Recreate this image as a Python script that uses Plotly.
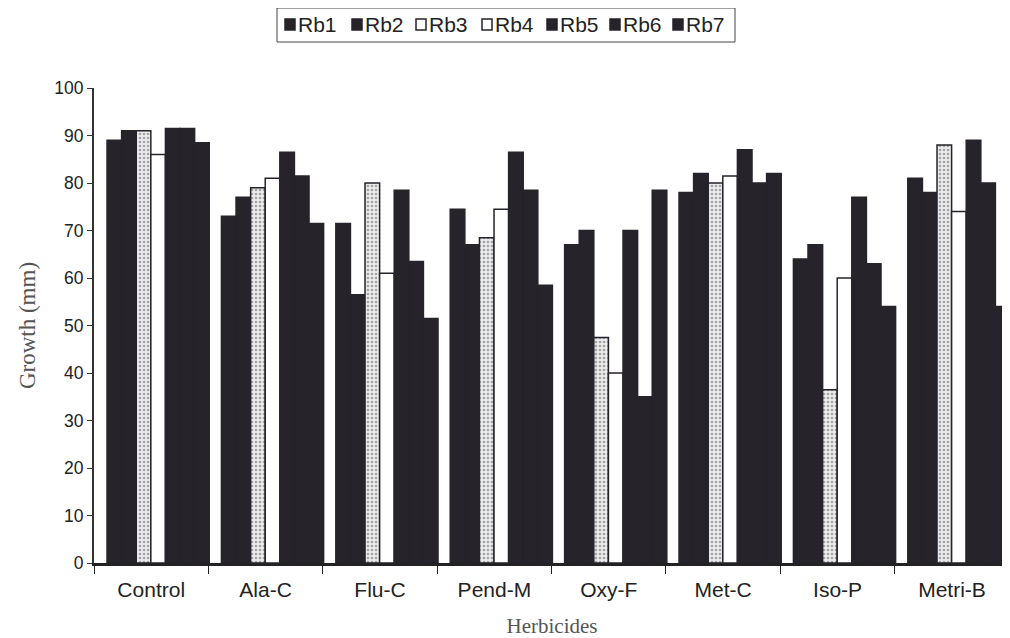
import plotly.graph_objects as go

categories = ["Control", "Ala-C", "Flu-C", "Pend-M", "Oxy-F", "Met-C", "Iso-P", "Metri-B"]
series_names = ["Rb1", "Rb2", "Rb3", "Rb4", "Rb5", "Rb6", "Rb7"]
rb1 = [89, 73, 71.5, 74.5, 67, 78, 64, 81]
rb2 = [91, 77, 56.5, 67, 70, 82, 67, 78]
rb3 = [91, 79, 80, 68.5, 47.5, 80, 36.5, 88]
rb4 = [86, 81, 61, 74.5, 40, 81.5, 60, 74]
rb5 = [91.5, 86.5, 78.5, 86.5, 70, 87, 77, 89]
rb6 = [91.5, 81.5, 63.5, 78.5, 35, 80, 63, 80]
rb7 = [88.5, 71.5, 51.5, 58.5, 78.5, 82, 54, 54]
values = [rb1, rb2, rb3, rb4, rb5, rb6, rb7]

dark = "#26232b"
bar_w = 0.1276
start = -0.386

# plot area in page pixels (used only for placing the hand-drawn legend)
PX0, PX1, PY0, PY1 = 94, 1010, 563, 88


def px(x):
    return (x - PX0) / (PX1 - PX0)


def py(y):
    return (PY0 - y) / (PY0 - PY1)


fig = go.Figure()
for i, (name, vals) in enumerate(zip(series_names, values)):
    if name == "Rb3":
        marker = dict(color="#e6e6e6", line=dict(color=dark, width=1.5),
                      pattern=dict(shape=".", fgcolor="#5a5a5a", bgcolor="#ececec",
                                   size=4, solidity=0.35))
    elif name == "Rb4":
        marker = dict(color="#ffffff", line=dict(color=dark, width=1.5))
    else:
        marker = dict(color=dark, line=dict(color=dark, width=1.5))
    fig.add_trace(go.Bar(name=name, x=categories, y=vals, offset=start + i * bar_w,
                         width=bar_w, marker=marker, showlegend=False))

# legend (box, squares, labels)
shapes = [dict(type="rect", xref="paper", yref="paper", x0=px(277), x1=px(735),
               y0=py(42), y1=py(8), line=dict(color="#444", width=1), fillcolor="rgba(0,0,0,0)")]
annotations = []
sq_x = [285, 352, 416, 482, 547, 610, 673]
for name, sx in zip(series_names, sq_x):
    hollow = name in ("Rb3", "Rb4")
    shapes.append(dict(type="rect", xref="paper", yref="paper", x0=px(sx), x1=px(sx + 10),
                       y0=py(30), y1=py(19), line=dict(color=dark, width=1.5),
                       fillcolor="#ffffff" if hollow else dark))
    annotations.append(dict(text=name, xref="paper", yref="paper", x=px(sx + 11), y=py(25),
                            xanchor="left", yanchor="middle", showarrow=False,
                            font=dict(size=21, color="#222")))

fig.update_layout(
    width=1002, height=630,
    barmode="overlay",
    paper_bgcolor="white", plot_bgcolor="white",
    margin=dict(l=86, r=0, t=80, b=75),
    font=dict(family="Liberation Sans, Arial, sans-serif", color="#222"),
    showlegend=False,
    shapes=shapes,
    annotations=annotations,
)
fig.update_xaxes(
    type="category", showline=True, linecolor="#222", linewidth=2.5,
    ticks="outside", tickson="boundaries", ticklen=8, tickcolor="#222",
    tickfont=dict(size=21, color="#222"), showgrid=False, ticklabelstandoff=6,
    title=dict(text="Herbicides", font=dict(family="Liberation Serif, Times New Roman, serif",
                                          size=21, color="#555"), standoff=19),
)
fig.update_yaxes(
    range=[0, 100], dtick=10, showline=True, linecolor="#333", linewidth=2,
    ticks="outside", ticklen=5, tickcolor="#333", showgrid=False, zeroline=False,
    tickfont=dict(size=17.5, color="#222"),
    title=dict(text="Growth (mm)", font=dict(family="Liberation Serif, Times New Roman, serif",
                                           size=23, color="#555"), standoff=12),
)
fig.write_html("out.html")
